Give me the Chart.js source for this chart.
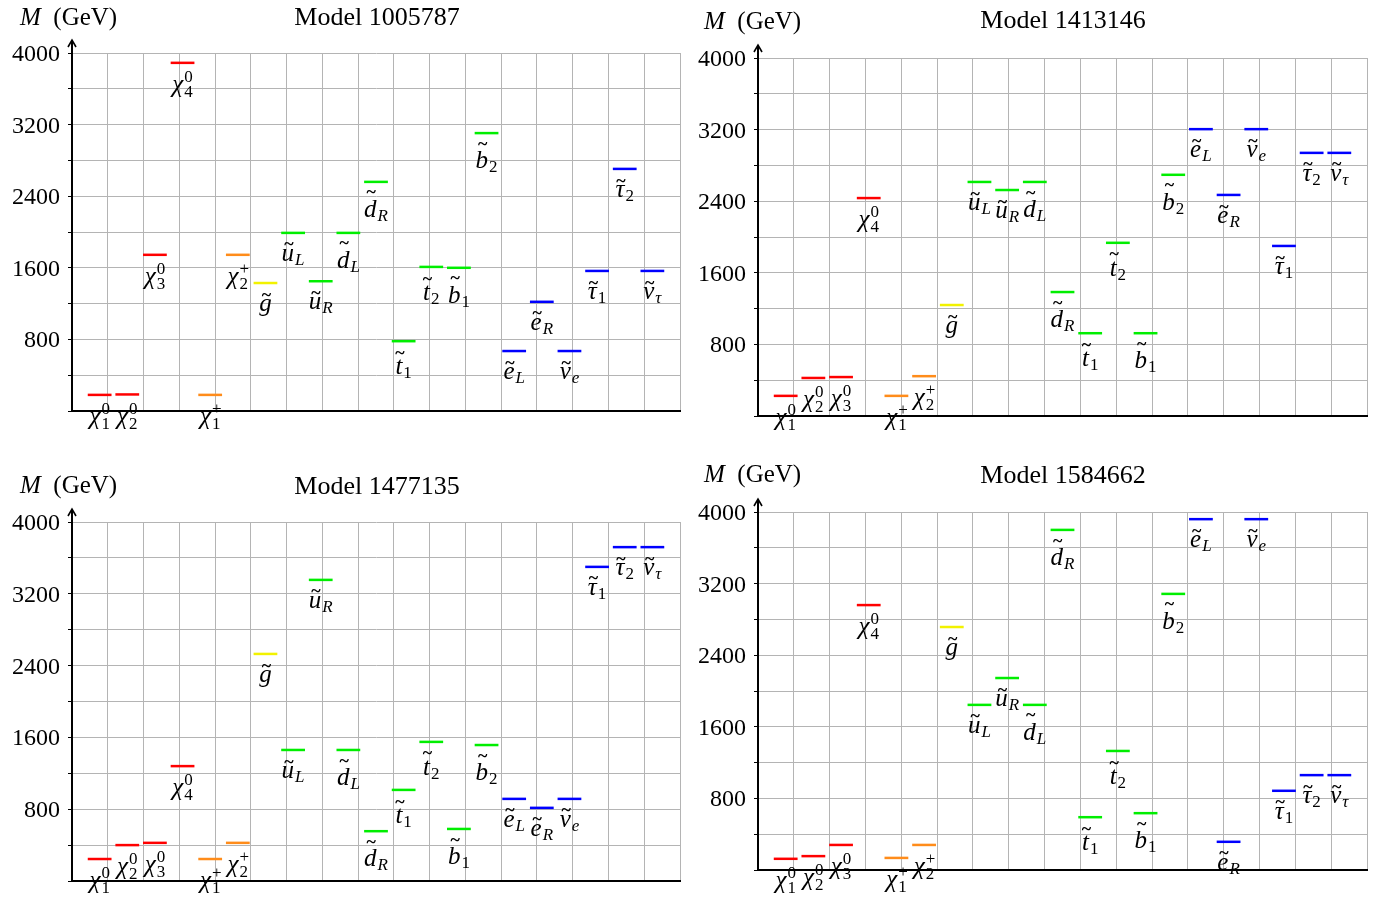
<!DOCTYPE html>
<html>
<head>
<meta charset="utf-8">
<script src="https://cdn.jsdelivr.net/npm/chart.js@4.4.1/dist/chart.umd.min.js"></script>
<style>
  body { margin: 0; background: #fff; width: 1382px; height: 904px; overflow: hidden; position: relative; }
  canvas { position: absolute; }
  .txt { position: absolute; font-family: "Liberation Serif", serif; font-size: 25px; line-height: 25px; color: #000; white-space: nowrap; }
  .title { transform: translateX(-50%); font-size: 26px; }
  .tick { position: absolute; font-family: "Liberation Serif", serif; font-size: 24px; line-height: 24px; color: #000; white-space: nowrap; transform: translate(-100%, -50%); }
  .plab { position: absolute; font-family: "Liberation Serif", serif; font-size: 25px; line-height: 25px; font-style: italic; color: #000; white-space: nowrap; transform: translateX(-50%); }
  .plab .b { position: relative; }
  .plab .tl { position: absolute; left: 50%; margin-left: 1px; transform: translateX(-50%); font-style: normal; font-weight: bold; font-size: 18px; line-height: 18px; }
  .plab .scr { position: relative; font-size: 17px; font-style: normal; margin-left: 1px; }
  .plab .sub { position: relative; }
  .plab .it { font-style: italic; }
  .plab .sup { position: absolute; left: 0; top: -9px; line-height: 17px; }
</style>
</head>
<body>
<canvas id="c1" width="691" height="452" style="left:0;top:0"></canvas>
<canvas id="c2" width="691" height="452" style="left:691px;top:0"></canvas>
<canvas id="c3" width="691" height="452" style="left:0;top:452px"></canvas>
<canvas id="c4" width="691" height="452" style="left:691px;top:452px"></canvas>

<div class="txt" style="left:20px;top:4px"><i>M</i>&nbsp; (GeV)</div>
<div class="txt title" style="left:377px;top:4px">Model 1005787</div>
<div class="txt" style="left:704px;top:8px"><i>M</i>&nbsp; (GeV)</div>
<div class="txt title" style="left:1063px;top:7px">Model 1413146</div>
<div class="txt" style="left:20px;top:472px"><i>M</i>&nbsp; (GeV)</div>
<div class="txt title" style="left:377px;top:473px">Model 1477135</div>
<div class="txt" style="left:704px;top:461px"><i>M</i>&nbsp; (GeV)</div>
<div class="txt title" style="left:1063px;top:462px">Model 1584662</div>

<script>
// particle order along the x axis
var particles = ['chi10', 'chi20', 'chi30', 'chi40', 'chi1p', 'chi2p', 'gluino',
    'uL', 'uR', 'dL', 'dR', 't1', 't2', 'b1', 'b2',
    'eL', 'eR', 'nue', 'tau1', 'tau2', 'nutau'];

// masses in GeV
var model1005787 = [180, 185, 1745, 3890, 180, 1745, 1430, 1990, 1450, 1990, 2560, 780, 1610, 1600, 3105, 670, 1220, 670, 1565, 2705, 1565];
var model1413146 = [225, 425, 435, 2435, 225, 445, 1240, 2615, 2525, 2615, 1385, 925, 1935, 925, 2695, 3205, 2470, 3205, 1900, 2940, 2940];
var model1477135 = [245, 400, 425, 1280, 245, 425, 2530, 1460, 3355, 1460, 555, 1015, 1550, 580, 1515, 915, 815, 915, 3500, 3720, 3720];
var model1584662 = [125, 155, 280, 2960, 135, 280, 2715, 1845, 2145, 1845, 3800, 590, 1330, 635, 3085, 3920, 315, 3920, 885, 1060, 1060];

var yTicks = [800, 1600, 2400, 3200, 4000];

var colors = {
    neutralino: '#ff0000', chargino: '#ff8c1a', gluino: '#f2f200',
    squark: '#00ee00', slepton: '#0000ff'
};
var kinds = ['neutralino', 'neutralino', 'neutralino', 'neutralino', 'chargino', 'chargino', 'gluino',
    'squark', 'squark', 'squark', 'squark', 'squark', 'squark', 'squark', 'squark',
    'slepton', 'slepton', 'slepton', 'slepton', 'slepton', 'slepton'];

// how each label is typeset: base glyph, tilde, subscript, superscript
var labels = {
    chi10: { b: 'χ', sub: '1', sup: '0', k: 'chi' },
    chi20: { b: 'χ', sub: '2', sup: '0', k: 'chi' },
    chi30: { b: 'χ', sub: '3', sup: '0', k: 'chi' },
    chi40: { b: 'χ', sub: '4', sup: '0', k: 'chi' },
    chi1p: { b: 'χ', sub: '1', sup: '+', k: 'chi' },
    chi2p: { b: 'χ', sub: '2', sup: '+', k: 'chi' },
    gluino: { b: 'g', k: 'short' },
    uL: { b: 'u', sub: 'L', it: true, k: 'short' },
    uR: { b: 'u', sub: 'R', it: true, k: 'short' },
    dL: { b: 'd', sub: 'L', it: true, k: 'tall' },
    dR: { b: 'd', sub: 'R', it: true, k: 'tall' },
    t1: { b: 't', sub: '1', k: 'mid' },
    t2: { b: 't', sub: '2', k: 'mid' },
    b1: { b: 'b', sub: '1', k: 'tall' },
    b2: { b: 'b', sub: '2', k: 'tall' },
    eL: { b: 'e', sub: 'L', it: true, k: 'short' },
    eR: { b: 'e', sub: 'R', it: true, k: 'short' },
    nue: { b: 'ν', sub: 'e', it: true, k: 'short' },
    tau1: { b: 'τ', sub: '1', k: 'short' },
    tau2: { b: 'τ', sub: '2', k: 'short' },
    nutau: { b: 'ν', sub: 'τ', it: true, k: 'short' }
};

var baseOff = { chi: 29, short: 28, mid: 33, tall: 35 };
var tildeOff = { short: 16, mid: 21, tall: 24 };

function labelHtml(s) {
    var h = '<span class="b">' + s.b;
    if (s.k !== 'chi') h += '<span class="tl" style="top:' + (12.5 - tildeOff[s.k]) + 'px">~</span>';
    h += '</span>';
    if (s.sub || s.sup) {
        h += '<span class="scr">';
        if (s.sub) h += '<span class="sub' + (s.it ? ' it' : '') + '" style="top:' + (s.sup ? 5 : 4) + 'px">' + s.sub + '</span>';
        if (s.sup) h += '<span class="sup">' + s.sup + '</span>';
        h += '</span>';
    }
    return h;
}

function addText(cls, html, left, top) {
    var d = document.createElement('div');
    d.className = cls;
    d.style.left = left + 'px';
    d.style.top = top + 'px';
    d.innerHTML = html;
    document.body.appendChild(d);
}

// text is placed as page text at positions taken from the chart scales
var textPlugin = {
    id: 'pageText',
    afterRender: function (chart) {
        if (chart.$textDone) return;
        chart.$textDone = true;
        var ox = chart.canvas.offsetLeft, oy = chart.canvas.offsetTop;
        var xs = chart.scales.x, ys = chart.scales.y;
        yTicks.forEach(function (v) {
            addText('tick', String(v), ox + xs.left - 12, oy + ys.getPixelForValue(v));
        });
        chart.data.datasets.forEach(function (ds, i) {
            var s = labels[particles[i]];
            var px = xs.getPixelForValue(i + 1);
            var py = ys.getPixelForValue(ds.data[0].y);
            addText('plab', labelHtml(s), ox + px, oy + py + baseOff[s.k] - 20.9);
        });
    },
    afterDraw: function (chart) {
        // arrow on top of the mass axis
        var ctx = chart.ctx;
        var ax = chart.scales.x.left, top = chart.chartArea.top;
        ctx.save();
        ctx.strokeStyle = '#000';
        ctx.lineWidth = 2;
        ctx.beginPath();
        ctx.moveTo(ax, top + 1);
        ctx.lineTo(ax, top - 12);
        ctx.stroke();
        ctx.lineWidth = 1.6;
        ctx.beginPath();
        ctx.moveTo(ax - 4, top - 6);
        ctx.lineTo(ax, top - 13);
        ctx.lineTo(ax + 4, top - 6);
        ctx.stroke();
        ctx.restore();
    }
};

function makeChart(id, masses, pad, yWidth) {
    var ctx = document.getElementById(id).getContext('2d');
    return new Chart(ctx, {
        type: 'line',
        data: {
            datasets: masses.map(function (m, i) {
                return {
                    label: particles[i],
                    data: [{ x: i + 1 - 0.43, y: m }, { x: i + 1 + 0.43, y: m }],
                    borderColor: colors[kinds[i]],
                    borderWidth: 2.5,
                    pointRadius: 0,
                    fill: false
                };
            })
        },
        options: {
            responsive: false,
            animation: false,
            devicePixelRatio: 1,
            layout: { padding: pad },
            plugins: {
                legend: { display: false },
                tooltip: { enabled: false }
            },
            scales: {
                x: {
                    type: 'linear',
                    min: 0,
                    max: 22,
                    afterBuildTicks: function (s) {
                        var t = [];
                        for (var k = 0; k <= 17; k++) t.push({ value: k * 22 / 17 });
                        s.ticks = t;
                    },
                    afterFit: function (s) { s.height = 0; },
                    ticks: { display: false },
                    grid: { color: '#b4b4b4', lineWidth: 1, drawTicks: false },
                    border: { color: '#000', width: 2 }
                },
                y: {
                    min: 0,
                    max: 4000,
                    afterFit: function (s) { s.width = yWidth; },
                    ticks: { stepSize: 400, autoSkip: false, display: false },
                    grid: { color: '#b4b4b4', lineWidth: 1, drawTicks: true, tickLength: 4, tickColor: '#000' },
                    border: { color: '#000', width: 2 }
                }
            }
        },
        plugins: [textPlugin]
    });
}

makeChart('c1', model1005787, { left: 0, top: 53, right: 11, bottom: 41 }, 72);
makeChart('c2', model1413146, { left: 0, top: 58, right: 15, bottom: 36 }, 67);
makeChart('c3', model1477135, { left: 0, top: 70, right: 11, bottom: 23 }, 72);
makeChart('c4', model1584662, { left: 0, top: 60, right: 15, bottom: 34 }, 67);
</script>
</body>
</html>
